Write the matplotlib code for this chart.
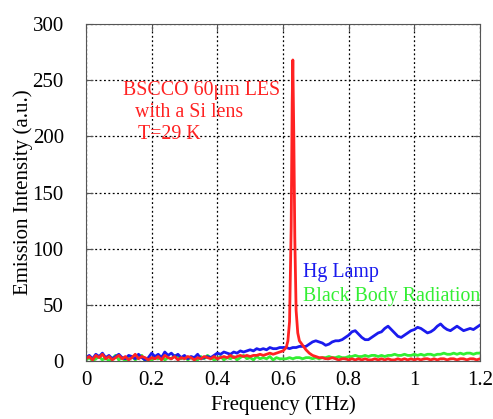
import matplotlib

matplotlib.use("Agg")

import matplotlib.pyplot as plt

plt.rcParams["font.family"] = ["Liberation Serif", "DejaVu Serif"]

# Hg lamp and black body spectra, sampled every 0.01 THz from 0 to 1.2
freq_grid = [round(i * 0.01, 2) for i in range(121)]

hg_lamp = [
    3, 5, 2, 6, 4, 7, 3, 5, 2, 4,
    6, 3, 2, 5, 4, 2, 6, 3, 1, 3,
    7, 4, 6, 3, 8, 5, 7, 4, 6, 3,
    5, 2, 4, 3, 6, 2, 3, 4, 3, 5,
    7, 6, 8, 7, 6, 8, 7, 9, 8, 9,
    10, 9, 11, 10, 11, 10, 12, 11, 11, 12,
    12, 12, 11, 12, 12, 13, 13, 13, 15, 17,
    18, 17, 16, 14, 15, 17, 18, 18, 19, 21,
    23, 26, 27, 24, 21, 19, 19, 21, 23, 25,
    26, 29, 31, 28, 25, 22, 21, 23, 25, 27,
    28, 30, 29, 27, 25, 26, 28, 31, 33, 30,
    28, 27, 29, 31, 29, 27, 28, 29, 28, 30,
    32,
]

black_body = [
    1, 3, 0, 2, 4, 1, 3, 0, 2, 5,
    1, 3, 0, 2, 4, 1, 3, 5, 0, 2,
    1, 3, 2, 4, 1, 3, 2, 5, 4, 2,
    4, 1, 3, 2, 1, 4, 2, 5, 3, 1,
    2, 4, 1, 3, 2, 4, 1, 3, 5, 2,
    3, 1, 4, 2, 3, 2, 4, 1, 3, 2,
    2, 2, 3, 2, 3, 3, 2, 3, 3, 2,
    3, 2, 3, 3, 4, 3, 3, 4, 3, 3,
    4, 4, 5, 4, 4, 5, 4, 5, 5, 4,
    5, 4, 5, 5, 6, 5, 5, 6, 5, 5,
    6, 5, 6, 5, 6, 6, 5, 6, 6, 7,
    6, 6, 7, 6, 7, 6, 7, 7, 6, 7,
    7,
]

# BSCCO emission: finer sampling around the 0.63 THz line
bscco_freq = (
    [round(i * 0.01, 2) for i in range(60)]
    + [0.60, 0.61, 0.615, 0.62, 0.625, 0.628, 0.63, 0.633, 0.636, 0.64, 0.645, 0.65]
    + [round(i * 0.01, 2) for i in range(66, 121)]
)
bscco = (
    [2, 4, 1, 5, 3, 6, 2, 4, 1, 3,
     5, 2, 4, 1, 3, 6, 2, 4, 3, 1,
     3, 2, 4, 1, 5, 3, 2, 4, 1, 3,
     2, 4, 3, 1, 3, 2, 4, 3, 2, 4,
     2, 3, 4, 3, 5, 3, 4, 5, 4, 5,
     4, 5, 5, 6, 5, 6, 7, 6, 7, 8]
    + [9, 12, 18, 35, 120, 230, 268, 200, 110, 45, 25, 18]
    + [14, 10, 7, 5,
       4, 3, 3, 2, 2, 3, 2, 1, 2, 2,
       1, 2, 1, 2, 1, 2, 1, 1, 2, 1,
       2, 1, 2, 1, 1, 2, 1, 2, 1, 2,
       1, 2, 1, 2, 2, 1, 2, 1, 2, 2,
       1, 2, 2, 1, 2, 2, 1, 2, 2, 1,
       2]
)

fig = plt.figure(figsize=(4.93, 4.19), dpi=100)
ax = fig.add_axes([0.1744, 0.1384, 0.7992, 0.8043])

ax.plot(freq_grid, black_body, color="#33ee33", lw=2)
ax.plot(freq_grid, hg_lamp, color="#1a1aee", lw=2)
ax.plot(bscco_freq, bscco, color="#ff2222", lw=2)

ax.set_xlim(0, 1.2)
ax.set_ylim(0, 300)
ax.set_xticks([0, 0.2, 0.4, 0.6, 0.8, 1.0, 1.2])
ax.set_xticklabels(["0", "0.2", "0.4", "0.6", "0.8", "1", "1.2"])
ax.set_yticks(range(0, 301, 50))
ax.tick_params(direction="in", top=True, right=True, labelsize=15, length=5, color="#555555")
ax.tick_params(axis="x", pad=7)
ax.tick_params(axis="y", pad=16)
ax.grid(True, color="black", linestyle=(0, (1.5, 2)), lw=0.9)
for s in ax.spines.values():
    s.set_color("#555555")

ax.set_xlabel("Frequency (THz)", fontsize=15, labelpad=4)
ax.set_ylabel("Emission Intensity (a.u.)", fontsize=15, labelpad=0)

ax.text(0.113, 241, "BSCCO 60\u03bcm LES", color="#ff2222", fontsize=14.3, va="center")
ax.text(0.149, 221, "with a Si lens", color="#ff2222", fontsize=14.3, va="center")
ax.text(0.159, 202, "T=29 K", color="#ff2222", fontsize=14.3, va="center")
ax.text(0.66, 79, "Hg Lamp", color="#1a1aee", fontsize=14.3, va="center")
ax.text(0.66, 57, "Black Body Radiation", color="#33ee33", fontsize=14.3, va="center")

fig.savefig("out.png", dpi=100)
